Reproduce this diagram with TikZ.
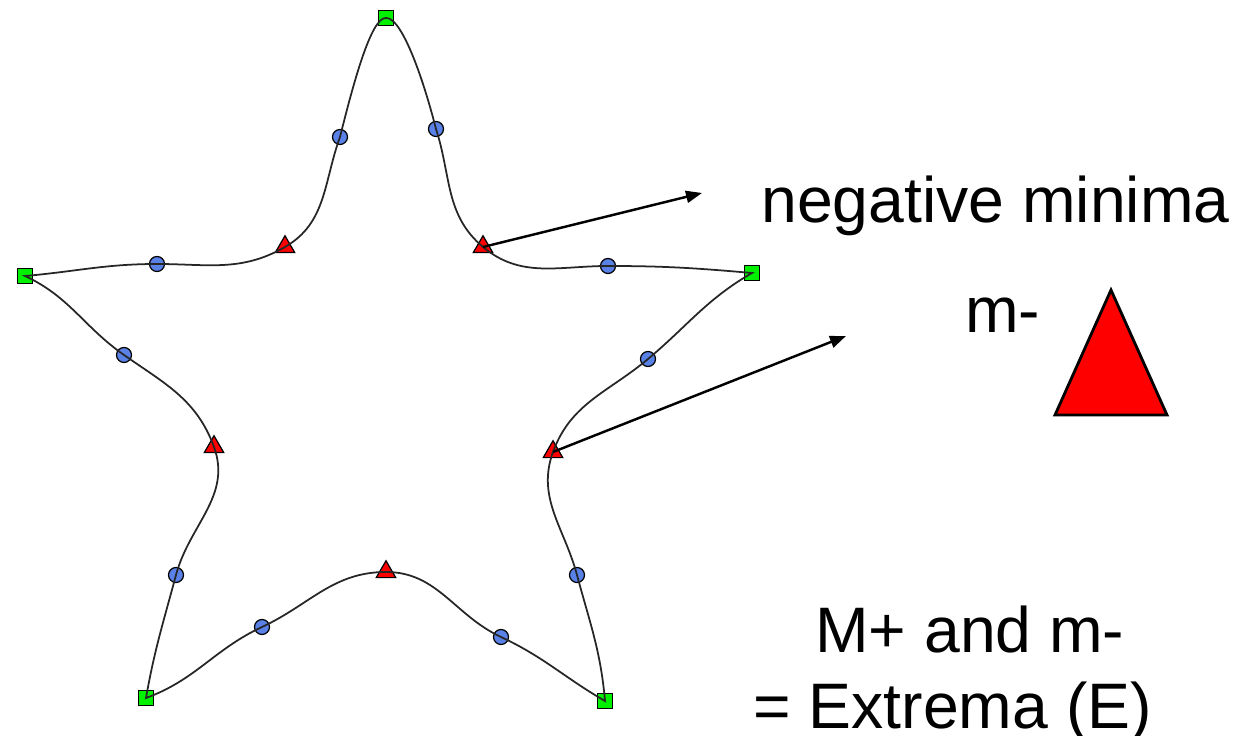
\documentclass[tikz,border=0pt]{standalone}
\usepackage{fontspec}
\setmainfont{Liberation Sans}
\usetikzlibrary{arrows.meta,shapes.geometric}
\definecolor{extgreen}{HTML}{00F000}
\definecolor{minred}{HTML}{FF0000}
\definecolor{midblue}{HTML}{5A82E6}

\begin{document}
\begin{tikzpicture}[x=0.02cm, y=0.02cm,
  font=\fontsize{36.6}{44}\selectfont,
  maxmark/.style={draw, fill=extgreen, minimum size=0.3cm, inner sep=0pt, line width=0.7pt},
  minmark/.style={draw, fill=minred, regular polygon, regular polygon sides=3,
    minimum size=0.45cm, inner sep=0pt, line width=0.7pt},
  ptmark/.style={draw, fill=midblue, circle, minimum size=0.3cm, inner sep=0pt, line width=0.7pt},
  outline/.style={line width=1pt, draw=black!85},
  arrow/.style={-{Triangle[length=3.2mm, width=2.4mm]}, line width=1.4pt},
  textlabel/.style={anchor=base west, inner sep=0pt}
]
\useasboundingbox (0,0) rectangle (1251,736);

% curvature markers
\node[maxmark] (T)  at (386,718) {};
\node[maxmark] (R)  at (752,463) {};
\node[maxmark] (BR) at (605,35) {};
\node[maxmark] (BL) at (146,38) {};
\node[maxmark] (L)  at (25,460) {};

\node[minmark] (t1) at (483,489) {};
\node[minmark] (t2) at (553,284) {};
\node[minmark] (t3) at (386,164) {};
\node[minmark] (t4) at (214,289) {};
\node[minmark] (t5) at (285,489) {};

\node[ptmark] (c1)  at (436,607) {};
\node[ptmark] (c2)  at (608,470) {};
\node[ptmark] (c3)  at (648,377) {};
\node[ptmark] (c4)  at (577,161) {};
\node[ptmark] (c5)  at (501,99) {};
\node[ptmark] (c6)  at (262,109) {};
\node[ptmark] (c7)  at (176,161) {};
\node[ptmark] (c8)  at (124,381) {};
\node[ptmark] (c9)  at (157,472) {};
\node[ptmark] (c10) at (340,599) {};

% star outline
\draw[outline] (T.center) .. controls (401,719) and (422,662) .. (c1.center)
  to[out=-72, in=140] (t1.center)
  to[out=-40, in=180] (c2.center)
  to[out=0, in=175] (R.center)
  to[out=-150, in=40] (c3.center)
  to[out=-140, in=70] (t2.center)
  to[out=-110, in=105] (c4.center)
  to[out=-75, in=95] (BR.center)
  to[out=150, in=-25] (c5.center)
  to[out=155, in=0] (t3.center)
  to[out=180, in=25] (c6.center)
  to[out=205, in=20] (BL.center)
  to[out=80, in=-105] (c7.center)
  to[out=75, in=-70] (t4.center)
  to[out=110, in=-35] (c8.center)
  to[out=145, in=-25] (L.center)
  to[out=5, in=180] (c9.center)
  to[out=0, in=210] (t5.center)
  to[out=30, in=250] (c10.center)
  .. controls (353,651) and (371,719) .. (T.center);

% pointers
\coordinate (a1) at (702,543);
\coordinate (a2) at (846,400);
\draw[arrow] (t1.center) -- (a1);
\draw[arrow] (t2.center) -- (a2);

\node[textlabel] (neg) at (761,513) {negative minima};
\node[textlabel] (msym) at (965,403) {m-};
\draw[fill=minred, line width=1.6pt] (1055,321) -- (1111,446) -- (1167,321) -- cycle;

\node[textlabel] (ext1) at (815,83) {M+ and m-};
\node[textlabel] (ext2) at (753,7) {= Extrema (E)};
\end{tikzpicture}
\end{document}
